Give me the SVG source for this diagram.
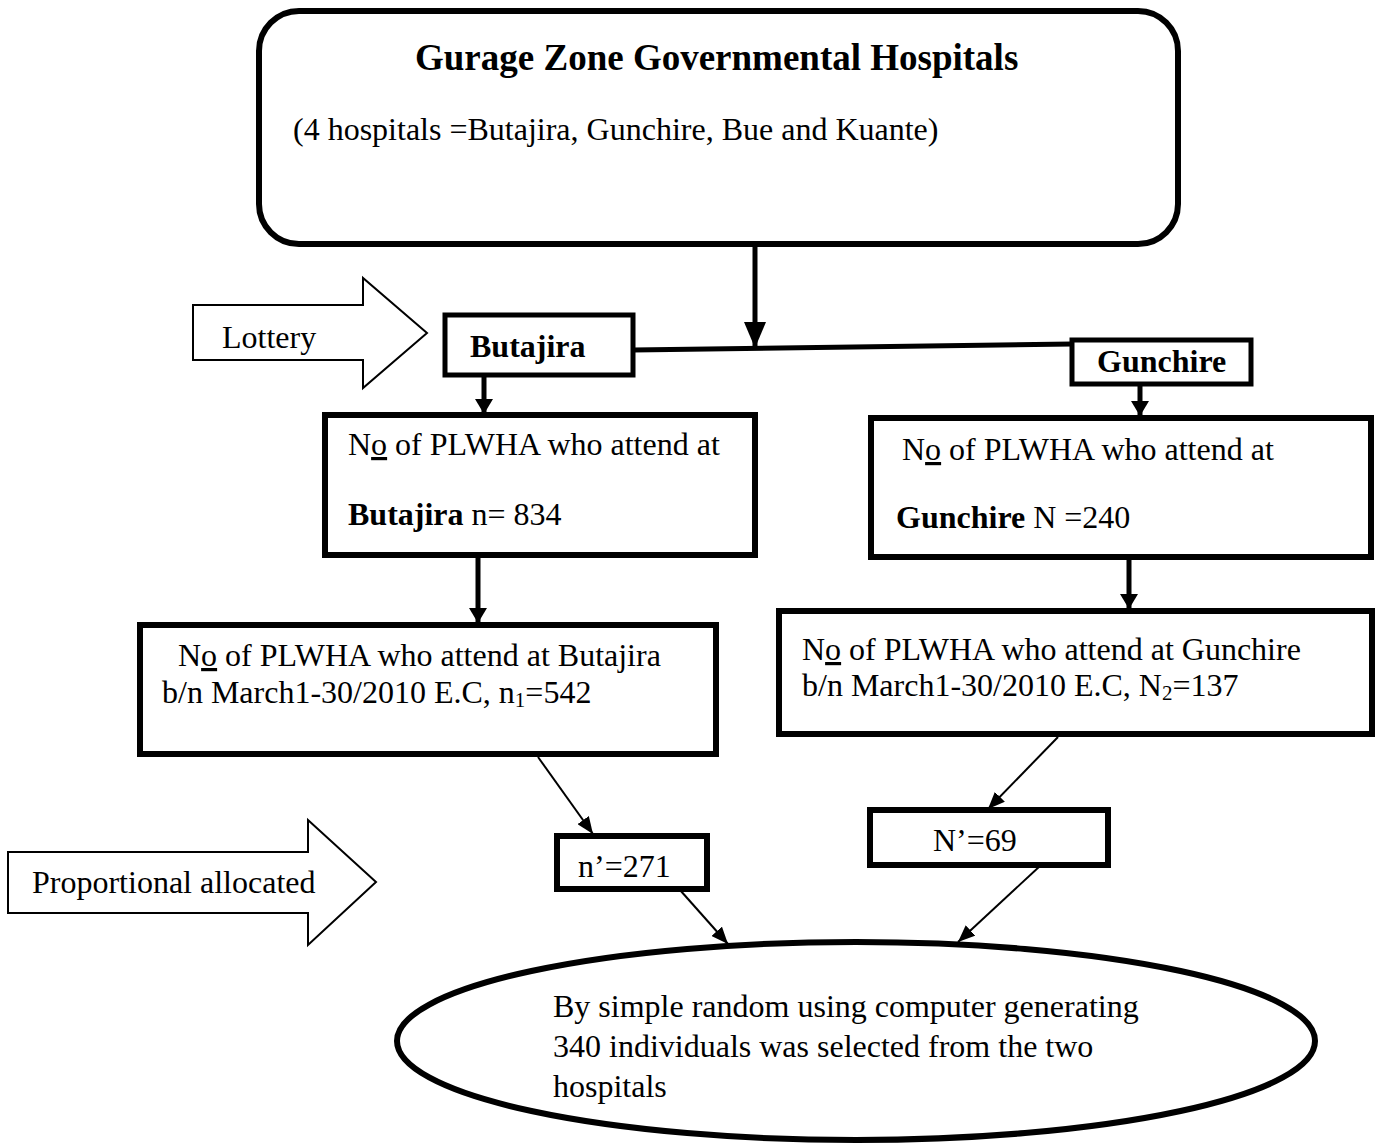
<svg xmlns="http://www.w3.org/2000/svg" width="1378" height="1146" viewBox="0 0 1378 1146">
<style>
text{font-family:"Liberation Serif","Times New Roman",serif;fill:#000;font-size:32px}
.b{font-weight:bold}
text.title{font-size:37px;font-weight:bold}
.sub{font-size:21px}
.box{fill:#fff;stroke:#000;stroke-width:6}
.sbox{fill:#fff;stroke:#000;stroke-width:5}
.blk{fill:none;stroke:#000;stroke-width:2}
.thick{stroke:#000;stroke-width:5;fill:none}
.thin{stroke:#000;stroke-width:2;fill:none}
.u{text-decoration:underline}
</style>
<defs>
<marker id="bigHead" markerUnits="userSpaceOnUse" markerWidth="26" markerHeight="24" refX="26" refY="11" orient="auto">
<path d="M0,0 L26,11 L0,22 Z" fill="#000"/>
</marker>
<marker id="midHead" markerUnits="userSpaceOnUse" markerWidth="16" markerHeight="18" refX="15" refY="9" orient="auto">
<path d="M0,0 L15,9 L0,18 Z" fill="#000"/>
</marker>
<marker id="thinHead" markerUnits="userSpaceOnUse" markerWidth="18" markerHeight="14" refX="17" refY="7" orient="auto">
<path d="M0,0 L17,7 L0,14 Z" fill="#000"/>
</marker>
<clipPath id="lotClip"><rect x="190" y="300" width="180" height="55"/></clipPath>
</defs>

<g id="connectors">
<line class="thick" x1="755" y1="245" x2="755" y2="348" marker-end="url(#bigHead)"/>
<line class="thick" x1="633" y1="350" x2="1072" y2="344"/>
<line class="thick" x1="484" y1="376" x2="484" y2="414" marker-end="url(#midHead)"/>
<line class="thick" x1="1140" y1="386" x2="1140" y2="416" marker-end="url(#midHead)"/>
<line class="thick" x1="478" y1="557" x2="478" y2="623" marker-end="url(#midHead)"/>
<line class="thick" x1="1129" y1="559" x2="1129" y2="609" marker-end="url(#midHead)"/>
<line class="thin" x1="538" y1="757" x2="593" y2="834" marker-end="url(#thinHead)"/>
<line class="thin" x1="1058" y1="737" x2="988" y2="809" marker-end="url(#thinHead)"/>
<line class="thin" x1="680" y1="890" x2="728" y2="944" marker-end="url(#thinHead)"/>
<line class="thin" x1="1040" y1="866" x2="958" y2="942" marker-end="url(#thinHead)"/>
</g>

<g id="top">
<rect class="box" x="259" y="11" width="919" height="233" rx="40" ry="40"/>
<text class="title" x="415" y="70">Gurage Zone Governmental Hospitals</text>
<text x="293" y="140">(4 hospitals =Butajira, Gunchire, Bue and Kuante)</text>
</g>

<g id="lottery">
<polygon class="blk" points="193,305 363,305 363,278 427,333 363,388 363,360 193,360"/>
<text x="222" y="348" clip-path="url(#lotClip)">Lottery</text>
</g>

<g id="butajira">
<rect class="sbox" x="445" y="315" width="188" height="60"/>
<text class="b" x="470" y="357">Butajira</text>
</g>

<g id="gunchire">
<rect class="sbox" x="1072" y="340" width="179" height="44"/>
<text class="b" x="1097" y="372">Gunchire</text>
</g>

<g id="butajira-total">
<rect class="box" x="325" y="415" width="430" height="140"/>
<text x="348" y="455">N<tspan class="u">o</tspan> of PLWHA who attend at</text>
<text x="348" y="525"><tspan class="b">Butajira</tspan> n= 834</text>
</g>

<g id="gunchire-total">
<rect class="box" x="871" y="418" width="500" height="139"/>
<text x="902" y="460">N<tspan class="u">o</tspan> of PLWHA who attend at</text>
<text x="896" y="528"><tspan class="b">Gunchire</tspan> N =240</text>
</g>

<g id="butajira-march">
<rect class="box" x="140" y="625" width="576" height="129"/>
<text x="178" y="666">N<tspan class="u">o</tspan> of PLWHA who attend at Butajira</text>
<text x="162" y="703">b/n March1-30/2010 E.C, n<tspan class="sub" dy="4">1</tspan><tspan dy="-4">=542</tspan></text>
</g>

<g id="gunchire-march">
<rect class="box" x="779" y="611" width="593" height="123"/>
<text x="802" y="660">N<tspan class="u">o</tspan> of PLWHA who attend at Gunchire</text>
<text x="802" y="696">b/n March1-30/2010 E.C, N<tspan class="sub" dy="4">2</tspan><tspan dy="-4">=137</tspan></text>
</g>

<g id="proportional">
<polygon class="blk" points="8,852 308,852 308,820 376,882 308,945 308,913 8,913"/>
<text x="32" y="893">Proportional allocated</text>
</g>

<g id="n-butajira">
<rect class="box" x="557" y="836" width="150" height="53"/>
<text x="578" y="877">n’=271</text>
</g>

<g id="n-gunchire">
<rect class="box" x="870" y="810" width="238" height="55"/>
<text x="933" y="851">N’=69</text>
</g>

<g id="result">
<ellipse cx="856" cy="1041" rx="459" ry="99" fill="#fff" stroke="#000" stroke-width="6"/>
<text x="553" y="1017">By simple random using computer generating</text>
<text x="553" y="1057">340 individuals was selected from the two</text>
<text x="553" y="1097">hospitals</text>
</g>
</svg>
